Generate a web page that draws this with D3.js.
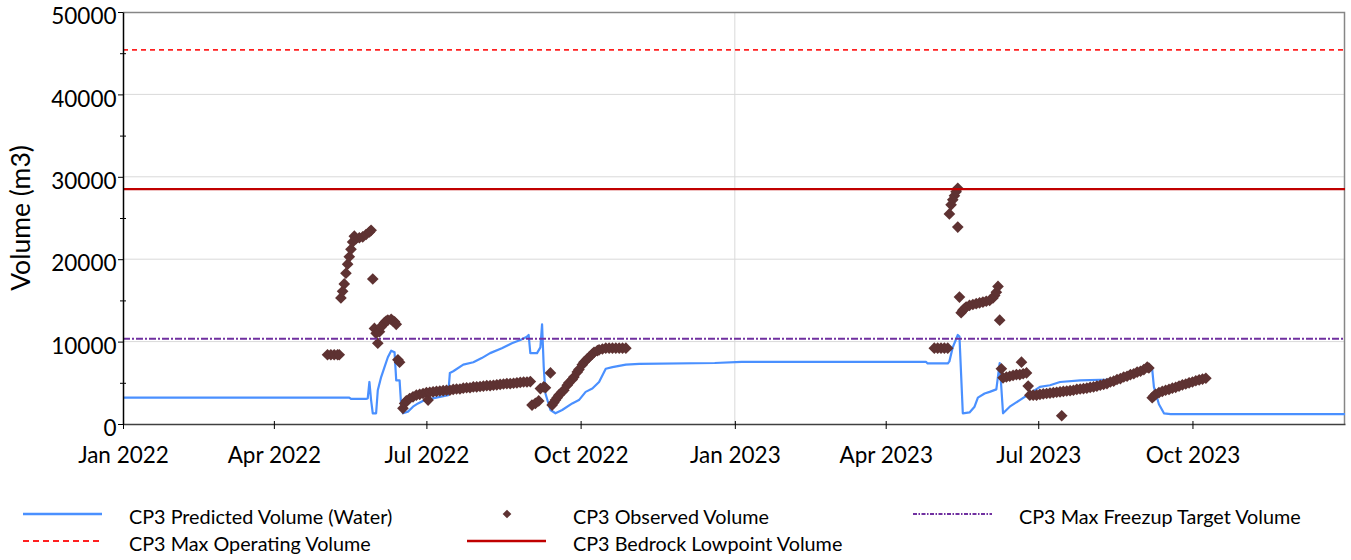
<!DOCTYPE html>
<html>
<head>
<meta charset="utf-8">
<script src="https://cdn.jsdelivr.net/npm/d3@7"></script>
<style>
  body { margin: 0; background: #fff; }
  text { font-family: Lato, "Open Sans", sans-serif; fill: #000; }
</style>
</head>
<body>
<div id="wrapper"></div>
<script>
// CP3 predicted volume (water), m3
const predicted = [
  ["2022-01-01", 3200], ["2022-05-16", 3200], ["2022-05-17", 3050], ["2022-05-26", 3050],
  ["2022-05-27", 3100], ["2022-05-28", 5100], ["2022-05-29", 2900], ["2022-05-30", 1300],
  ["2022-06-01", 1300], ["2022-06-02", 4100], ["2022-06-04", 5700], ["2022-06-06", 6900],
  ["2022-06-08", 8100], ["2022-06-10", 8900], ["2022-06-12", 8700], ["2022-06-13", 5300],
  ["2022-06-15", 5300], ["2022-06-16", 2100], ["2022-06-17", 1300], ["2022-06-20", 1500],
  ["2022-06-23", 2100], ["2022-06-26", 2500], ["2022-06-30", 2900], ["2022-07-09", 3300],
  ["2022-07-14", 3500], ["2022-07-15", 6200], ["2022-07-17", 6400], ["2022-07-23", 7200],
  ["2022-07-29", 7500], ["2022-08-03", 8000], ["2022-08-08", 8600], ["2022-08-15", 9200],
  ["2022-08-21", 9800], ["2022-08-26", 10200], ["2022-08-30", 10600], ["2022-08-31", 10800],
  ["2022-09-01", 8600], ["2022-09-05", 8600], ["2022-09-07", 9300], ["2022-09-08", 12100],
  ["2022-09-09", 6900], ["2022-09-10", 3700], ["2022-09-13", 1700], ["2022-09-16", 1300],
  ["2022-09-20", 1700], ["2022-09-26", 2500], ["2022-09-30", 2900], ["2022-10-04", 3900],
  ["2022-10-08", 4300], ["2022-10-12", 5100], ["2022-10-16", 6700], ["2022-10-20", 6900],
  ["2022-10-28", 7200], ["2022-11-05", 7300], ["2022-12-20", 7400], ["2023-01-05", 7550],
  ["2023-04-25", 7550], ["2023-04-26", 7350], ["2023-05-08", 7350], ["2023-05-09", 7600],
  ["2023-05-11", 9300], ["2023-05-14", 10800], ["2023-05-15", 10600], ["2023-05-17", 1300],
  ["2023-05-21", 1400], ["2023-05-24", 2100], ["2023-05-26", 3200], ["2023-05-30", 3700],
  ["2023-06-02", 3900], ["2023-06-06", 4200], ["2023-06-08", 7400], ["2023-06-10", 1300],
  ["2023-06-14", 2100], ["2023-06-20", 2900], ["2023-06-26", 3700], ["2023-07-02", 4500],
  ["2023-07-08", 4700], ["2023-07-14", 5100], ["2023-07-26", 5300], ["2023-08-13", 5400],
  ["2023-08-25", 5900], ["2023-09-05", 6700], ["2023-09-07", 6600], ["2023-09-08", 4500],
  ["2023-09-11", 2400], ["2023-09-14", 1300], ["2023-09-18", 1200], ["2023-12-31", 1200]
];

// CP3 observed volume, m3
const observed = [
  ["2022-05-03", 8400], ["2022-05-05", 8400], ["2022-05-07", 8400], ["2022-05-09", 8400], ["2022-05-10", 8400],
  ["2022-05-11", 15300], ["2022-05-12", 16100], ["2022-05-13", 17000], ["2022-05-14", 18300],
  ["2022-05-15", 19400], ["2022-05-16", 20300], ["2022-05-17", 21200], ["2022-05-18", 22100],
  ["2022-05-19", 22800], ["2022-05-20", 22500], ["2022-05-22", 22600], ["2022-05-24", 22700],
  ["2022-05-26", 23000], ["2022-05-28", 23300], ["2022-05-29", 23500], ["2022-05-30", 17600],
  ["2022-05-31", 11600], ["2022-06-01", 11000], ["2022-06-02", 9800], ["2022-06-03", 11200],
  ["2022-06-04", 11800], ["2022-06-05", 12000], ["2022-06-06", 12300], ["2022-06-07", 12500],
  ["2022-06-08", 12600], ["2022-06-10", 12700], ["2022-06-11", 12500], ["2022-06-12", 12400],
  ["2022-06-13", 12100], ["2022-06-14", 7800], ["2022-06-15", 7500],
  ["2022-06-17", 1900], ["2022-06-18", 2500], ["2022-06-19", 2800], ["2022-06-21", 3100],
  ["2022-06-23", 3300], ["2022-06-25", 3500], ["2022-06-27", 3600], ["2022-06-29", 3700],
  ["2022-07-01", 3800], ["2022-07-02", 2900], ["2022-07-03", 3850], ["2022-07-05", 3900],
  ["2022-07-07", 3950], ["2022-07-09", 4000], ["2022-07-11", 4050], ["2022-07-13", 4100],
  ["2022-07-15", 4100], ["2022-07-17", 4200], ["2022-07-19", 4250], ["2022-07-21", 4250],
  ["2022-07-23", 4350], ["2022-07-25", 4400], ["2022-07-27", 4400], ["2022-07-29", 4500],
  ["2022-07-31", 4500], ["2022-08-02", 4550], ["2022-08-04", 4600], ["2022-08-06", 4650],
  ["2022-08-08", 4650], ["2022-08-10", 4700], ["2022-08-12", 4750], ["2022-08-14", 4800],
  ["2022-08-16", 4850], ["2022-08-18", 4900], ["2022-08-20", 4900], ["2022-08-22", 4950],
  ["2022-08-24", 5000], ["2022-08-26", 5050], ["2022-08-28", 5100], ["2022-08-30", 5100],
  ["2022-09-01", 5150], ["2022-09-02", 2300], ["2022-09-04", 2500], ["2022-09-06", 2800],
  ["2022-09-07", 4300], ["2022-09-09", 4500], ["2022-09-10", 4400], ["2022-09-13", 6200],
  ["2022-09-14", 2300], ["2022-09-15", 2600], ["2022-09-16", 2900], ["2022-09-17", 3200],
  ["2022-09-18", 3500], ["2022-09-20", 3900], ["2022-09-21", 4100], ["2022-09-23", 4700],
  ["2022-09-24", 5000], ["2022-09-26", 5400], ["2022-09-27", 5700], ["2022-09-29", 6300],
  ["2022-09-30", 6600], ["2022-10-02", 7200], ["2022-10-03", 7500], ["2022-10-05", 7900],
  ["2022-10-06", 8100], ["2022-10-08", 8500], ["2022-10-09", 8700], ["2022-10-11", 8900],
  ["2022-10-12", 9000], ["2022-10-14", 9100], ["2022-10-16", 9200], ["2022-10-18", 9200],
  ["2022-10-20", 9200], ["2022-10-22", 9200], ["2022-10-24", 9200], ["2022-10-26", 9200],
  ["2022-10-28", 9200],
  ["2023-04-30", 9200], ["2023-05-02", 9200], ["2023-05-04", 9200], ["2023-05-06", 9200],
  ["2023-05-08", 9200], ["2023-05-09", 25500], ["2023-05-10", 26600], ["2023-05-11", 27200],
  ["2023-05-12", 27700], ["2023-05-13", 28200], ["2023-05-14", 28600], ["2023-05-14", 23900],
  ["2023-05-15", 15400], ["2023-05-16", 13500], ["2023-05-17", 13800], ["2023-05-18", 14000],
  ["2023-05-19", 14200], ["2023-05-21", 14400], ["2023-05-23", 14500], ["2023-05-25", 14600],
  ["2023-05-27", 14700], ["2023-05-29", 14800], ["2023-05-31", 14900], ["2023-06-02", 15000],
  ["2023-06-04", 15300], ["2023-06-05", 15600], ["2023-06-06", 16000], ["2023-06-07", 16700],
  ["2023-06-08", 12600], ["2023-06-09", 6700], ["2023-06-10", 5600], ["2023-06-12", 5700],
  ["2023-06-14", 5800], ["2023-06-16", 5900], ["2023-06-18", 6000], ["2023-06-20", 6000],
  ["2023-06-21", 7500], ["2023-06-22", 6100], ["2023-06-24", 6200], ["2023-06-25", 4600],
  ["2023-06-26", 3500], ["2023-06-28", 3500], ["2023-06-30", 3500], ["2023-07-02", 3600],
  ["2023-07-04", 3650], ["2023-07-06", 3700], ["2023-07-08", 3750], ["2023-07-10", 3800],
  ["2023-07-12", 3850], ["2023-07-14", 3900], ["2023-07-15", 1000], ["2023-07-16", 3950],
  ["2023-07-18", 4000], ["2023-07-20", 4050], ["2023-07-22", 4100], ["2023-07-24", 4200],
  ["2023-07-26", 4250], ["2023-07-28", 4300], ["2023-07-30", 4350], ["2023-08-01", 4450],
  ["2023-08-03", 4500], ["2023-08-05", 4600], ["2023-08-07", 4700], ["2023-08-09", 4800],
  ["2023-08-11", 4900], ["2023-08-13", 5100], ["2023-08-15", 5200], ["2023-08-17", 5400],
  ["2023-08-19", 5500], ["2023-08-21", 5700], ["2023-08-23", 5800], ["2023-08-25", 6000],
  ["2023-08-27", 6100], ["2023-08-29", 6300], ["2023-08-31", 6400], ["2023-09-02", 6600],
  ["2023-09-04", 6900], ["2023-09-05", 6800], ["2023-09-07", 3200], ["2023-09-08", 3400],
  ["2023-09-09", 3600], ["2023-09-11", 3800], ["2023-09-13", 3950], ["2023-09-15", 4100],
  ["2023-09-17", 4200], ["2023-09-19", 4350], ["2023-09-21", 4450], ["2023-09-23", 4600],
  ["2023-09-25", 4750], ["2023-09-27", 4850], ["2023-09-29", 5000], ["2023-10-01", 5100],
  ["2023-10-03", 5250], ["2023-10-05", 5350], ["2023-10-07", 5450], ["2023-10-09", 5550]
];

// constant reference volumes, m3
const maxOperating = 45400;
const bedrockLowpoint = 28500;
const maxFreezeup = 10350;

const xDomain = ["2022-01-01", "2023-12-31"];
const xTicks = ["2022-01-01", "2022-04-01", "2022-07-01", "2022-10-01",
                "2023-01-01", "2023-04-01", "2023-07-01", "2023-10-01"];
const yTicks = [0, 10000, 20000, 30000, 40000, 50000];
const yMinorTicks = [5000, 15000, 25000, 35000, 45000];
const gridY = [10000, 20000, 30000, 40000];
const gridX = ["2023-01-01"];

const parseDate = d3.timeParse("%Y-%m-%d");

const width = 1351;
let dimensions = {
  width,
  height: 560,
  margin: { top: 12, right: 6, bottom: 136, left: 123 },
};
dimensions.boundedWidth = dimensions.width - dimensions.margin.left - dimensions.margin.right;
dimensions.boundedHeight = dimensions.height - dimensions.margin.top - dimensions.margin.bottom;

const wrapper = d3.select("#wrapper")
  .append("svg")
  .attr("width", dimensions.width)
  .attr("height", dimensions.height);

const bounds = wrapper.append("g")
  .attr("transform", `translate(${dimensions.margin.left},${dimensions.margin.top})`);

const xScale = d3.scaleTime()
  .domain(xDomain.map(parseDate))
  .range([0, dimensions.boundedWidth]);

const yScale = d3.scaleLinear()
  .domain([0, 50000])
  .range([dimensions.boundedHeight, 0]);

// gridlines
bounds.append("g").selectAll("line")
  .data(gridY)
  .join("line")
  .attr("x1", 0).attr("x2", dimensions.boundedWidth)
  .attr("y1", d => yScale(d)).attr("y2", d => yScale(d))
  .attr("stroke", "#d9d9d9").attr("stroke-width", 1);

bounds.append("g").selectAll("line")
  .data(gridX)
  .join("line")
  .attr("x1", d => xScale(parseDate(d))).attr("x2", d => xScale(parseDate(d)))
  .attr("y1", 0).attr("y2", dimensions.boundedHeight)
  .attr("stroke", "#d9d9d9").attr("stroke-width", 1);

// frame top + right
bounds.append("path")
  .attr("d", `M0,0.5H${dimensions.boundedWidth - 0.5}V${dimensions.boundedHeight}`)
  .attr("fill", "none").attr("stroke", "#868686").attr("stroke-width", 1.5);

// predicted line
const lineGen = d3.line()
  .x(d => xScale(parseDate(d[0])))
  .y(d => yScale(d[1]));

bounds.append("path")
  .datum(predicted)
  .attr("d", lineGen)
  .attr("fill", "none")
  .attr("stroke", "#4a90ff")
  .attr("stroke-width", 2.2)
  .attr("stroke-linejoin", "round");

// observed diamonds
const diamond = d3.symbol(d3.symbolSquare, 68);
bounds.append("g").selectAll("path")
  .data(observed)
  .join("path")
  .attr("d", diamond)
  .attr("transform", d => `translate(${xScale(parseDate(d[0]))},${yScale(d[1])}) rotate(45)`)
  .attr("fill", "#5e3232");

// reference lines
const refLines = [
  { value: maxFreezeup, color: "#7030a0", dash: "7,2,2,2", w: 2 },
  { value: bedrockLowpoint, color: "#c00000", dash: null, w: 2.2 },
  { value: maxOperating, color: "#ff2020", dash: "5,4", w: 1.6 },
];
bounds.append("g").selectAll("line")
  .data(refLines)
  .join("line")
  .attr("x1", 0).attr("x2", dimensions.boundedWidth)
  .attr("y1", d => yScale(d.value)).attr("y2", d => yScale(d.value))
  .attr("stroke", d => d.color)
  .attr("stroke-width", d => d.w)
  .attr("stroke-dasharray", d => d.dash);

// axes
const xAxis = bounds.append("g")
  .attr("transform", `translate(0,${dimensions.boundedHeight})`)
  .call(d3.axisBottom(xScale)
    .tickValues(xTicks.map(parseDate))
    .tickFormat(d3.timeFormat("%b %Y"))
    .tickSizeInner(5).tickSizeOuter(0).tickPadding(18));
xAxis.select(".domain").attr("stroke", "#404040").attr("stroke-width", 1.5);
xAxis.selectAll(".tick line").attr("y1", -3).attr("stroke", "#000");
xAxis.selectAll("text").attr("font-size", "22.5px").attr("font-family", "Lato").attr("fill", "#000");

const yAxis = bounds.append("g")
  .call(d3.axisLeft(yScale)
    .tickValues(yTicks)
    .tickFormat(d3.format("d"))
    .tickSizeInner(5).tickSizeOuter(0).tickPadding(1.5));
yAxis.select(".domain").attr("stroke", "#000").attr("stroke-width", 1.5);
yAxis.selectAll("text")
  .attr("font-size", "22.5px").attr("font-family", "Lato").attr("fill", "#000")
  .attr("dy", "0.52em");

const yMinor = bounds.append("g")
  .call(d3.axisLeft(yScale).tickValues(yMinorTicks).tickSize(3).tickFormat(""));
yMinor.select(".domain").remove();
yMinor.selectAll(".tick line").attr("x2", 3).attr("x1", -3).attr("stroke", "#000");

// y title
wrapper.append("text")
  .attr("transform", `translate(30,${dimensions.margin.top + dimensions.boundedHeight / 2}) rotate(-90)`)
  .attr("text-anchor", "middle")
  .attr("font-size", "26.5px")
  .text("Volume (m3)");

// legend
const legendItems = [
  { label: "CP3 Predicted Volume (Water)", type: "line", color: "#4a90ff", dash: null, w: 2.5, x: 23, y: 514 },
  { label: "CP3 Observed Volume", type: "diamond", color: "#5e3232", x: 467, y: 514 },
  { label: "CP3 Max Freezup Target Volume", type: "line", color: "#7030a0", dash: "4,1.5,1.5,1.5", w: 2, x: 913, y: 514 },
  { label: "CP3 Max Operating Volume", type: "line", color: "#ff2020", dash: "6,4", w: 2, x: 23, y: 541 },
  { label: "CP3 Bedrock Lowpoint Volume", type: "line", color: "#c00000", dash: null, w: 2.5, x: 467, y: 541 },
];

const legend = wrapper.append("g");
const legendRows = legend.selectAll("g")
  .data(legendItems)
  .join("g")
  .attr("transform", d => `translate(${d.x},${d.y})`);

legendRows.filter(d => d.type === "line")
  .append("line")
  .attr("x1", 0).attr("x2", 79)
  .attr("stroke", d => d.color)
  .attr("stroke-width", d => d.w)
  .attr("stroke-dasharray", d => d.dash);

legendRows.filter(d => d.type === "diamond")
  .append("path")
  .attr("d", d3.symbol(d3.symbolSquare, 38))
  .attr("transform", "translate(40,0) rotate(45)")
  .attr("fill", d => d.color);

legendRows.append("text")
  .attr("x", 106)
  .attr("y", 4)
  .attr("dy", "0.32em")
  .attr("font-size", "19.8px")
  .text(d => d.label);
</script>
</body>
</html>
